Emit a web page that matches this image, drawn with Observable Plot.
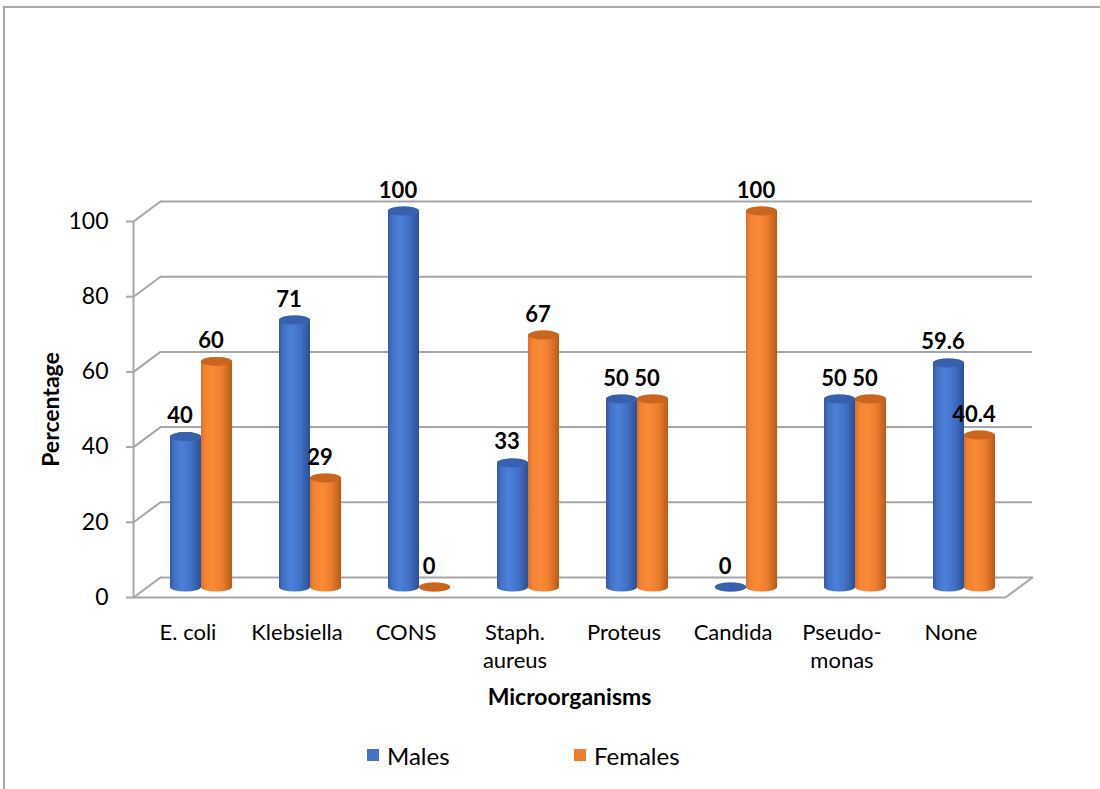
<!DOCTYPE html>
<html>
<head>
<meta charset="utf-8">
<script src="https://cdn.jsdelivr.net/npm/d3@7"></script>
<script src="https://cdn.jsdelivr.net/npm/@observablehq/plot@0.6"></script>
<style>
  body { margin: 0; background: #fff; font-family: Lato, sans-serif; }
  #frame { position: absolute; left: 3px; top: 6px; width: 1200px; height: 900px; border: 2px solid #a9a9a9; box-sizing: border-box; }
  #chart { position: absolute; left: 0; top: 0; }
  .legend-item { position: absolute; top: 742px; height: 26px; display: flex; align-items: center; font-size: 24px; color: #000; }
  .legend-swatch { width: 12px; height: 12px; margin-right: 8px; }
</style>
</head>
<body>
<div id="frame"></div>
<div id="chart"></div>
<div id="legend"></div>
<script>
// Infection rates by organism, split by sex (%)
const categories = ["E. coli", "Klebsiella", "CONS", "Staph.\naureus", "Proteus", "Candida", "Pseudo-\nmonas", "None"];
const males = [40, 71, 100, 33, 50, 0, 50, 59.6];
const females = [60, 29, 0, 67, 50, 100, 50, 40.4];
const yTicks = [0, 20, 40, 60, 80, 100];
const series = ["Males", "Females"];
const seriesColors = ["#4472c4", "#ed7d31"];

// long table built from the arrays above
const rows = categories.flatMap((category, i) => [
  {category, index: i, sex: series[0], value: males[i]},
  {category, index: i, sex: series[1], value: females[i]}
]);

// pseudo-3D geometry (pixels)
const W = 1100, H = 720;
const mL = 133, mR = 95, mT = 221, mB = 123;
const unitPx = (W - mL - mR) / categories.length;  // width of one category slot
const barPx = 31;                                   // cylinder diameter
const barU = barPx / unitPx;                        // same, in x units
const wallDx = 27, wallDy = -20;                    // back wall offset
const barDx = 13.5, barDy = -10;                    // cylinders sit mid-depth
const capRy = 4.5;                                  // ellipse half-height of cylinder ends
const grid = "#a6a6a6";

const x1Of = d => d.index + 0.5 + (d.sex === series[0] ? -barU : 0);
const x2Of = d => d.index + 0.5 + (d.sex === series[0] ? 0 : barU);
const xMid = d => d.index + 0.5 + (d.sex === series[0] ? -barU / 2 : barU / 2);

const depthLen = Math.hypot(wallDx, wallDy);
const depthAngle = Math.atan2(wallDx, -wallDy) * 180 / Math.PI;

// horizontal shading for the cylinders
function cylinderDefs() {
  const ns = "http://www.w3.org/2000/svg";
  const defs = document.createElementNS(ns, "defs");
  const gradients = {
    cylMales: [[0, "#34599f"], [0.12, "#426fc2"], [0.38, "#4c80d9"], [0.7, "#4070c4"], [1, "#2c4f93"]],
    cylFemales: [[0, "#d8702a"], [0.12, "#f08232"], [0.38, "#fa8c37"], [0.7, "#ea7c2e"], [1, "#b85a1b"]]
  };
  for (const [id, stops] of Object.entries(gradients)) {
    const g = document.createElementNS(ns, "linearGradient");
    g.setAttribute("id", id);
    g.setAttribute("x1", "0"); g.setAttribute("x2", "1");
    g.setAttribute("y1", "0"); g.setAttribute("y2", "0");
    for (const [o, c] of stops) {
      const s = document.createElementNS(ns, "stop");
      s.setAttribute("offset", o);
      s.setAttribute("stop-color", c);
      g.appendChild(s);
    }
    defs.appendChild(g);
  }
  return defs;
}

const maleRows = rows.filter(d => d.sex === series[0]);
const femaleRows = rows.filter(d => d.sex === series[1]);

const cylinder = (data, fill, cap) => [
  Plot.rect(data, {
    x1: x1Of, x2: x2Of, y1: 0, y2: "value",
    insetTop: -capRy, insetBottom: -capRy,
    rx: barPx / 2, ry: capRy,
    fill, dx: barDx, dy: barDy
  }),
  Plot.rect(data, {
    x1: x1Of, x2: x2Of, y1: "value", y2: "value",
    insetTop: -capRy, insetBottom: -capRy,
    rx: barPx / 2, ry: capRy,
    fill: cap, dx: barDx, dy: barDy
  })
];

const chart = Plot.plot({
  width: W,
  height: H,
  marginLeft: mL,
  marginRight: mR,
  marginTop: mT,
  marginBottom: mB,
  x: {type: "linear", domain: [0, categories.length]},
  y: {domain: [0, 100]},
  style: {fontFamily: "Lato, sans-serif", fontSize: "22px", color: "#000", background: "transparent", overflow: "visible"},
  marks: [
    cylinderDefs,
    // back wall gridlines
    Plot.ruleY(yTicks, {stroke: grid, strokeWidth: 2, dx: wallDx, dy: wallDy}),
    // side wall receding lines, plus the right floor edge
    Plot.vector(yTicks, {x: 0, y: d => d, length: depthLen, rotate: depthAngle, anchor: "start", r: 0, stroke: grid, strokeWidth: 2}),
    Plot.vector([0], {x: categories.length, y: d => d, length: depthLen, rotate: depthAngle, anchor: "start", r: 0, stroke: grid, strokeWidth: 2}),
    // front edges
    Plot.ruleY([0], {stroke: grid, strokeWidth: 2}),
    Plot.ruleX([0], {y1: 0, y2: 100, stroke: grid, strokeWidth: 2}),
    Plot.axisY({ticks: yTicks, tickSize: 7, tickPadding: 18, stroke: grid, strokeWidth: 2, label: null, fontSize: 23}),
    Plot.axisX({
      ticks: categories.map((_, i) => i + 0.5),
      tickFormat: d => categories[Math.floor(d)],
      tickSize: 0, tickPadding: 22, label: null, fontSize: 22, lineHeight: 1.3
    }),
    ...cylinder(maleRows, "url(#cylMales)", "#3760ad"),
    ...cylinder(femaleRows, "url(#cylFemales)", "#c9651f"),
    // value labels
    Plot.text(rows, {
      x: xMid, y: "value", text: d => String(d.value),
      dx: barDx - 6, dy: -31, fontWeight: "bold", fontSize: 22, fill: "#000"
    }),
    Plot.text(["Percentage"], {frameAnchor: "left", textAnchor: "middle", lineAnchor: "middle", rotate: -90, dx: -82, fontWeight: "bold", fontSize: 23, fill: "#000"}),
    Plot.text(["Microorganisms"], {frameAnchor: "bottom", lineAnchor: "middle", dy: 100, fontWeight: "bold", fontSize: 23, fill: "#000"})
  ]
});
document.getElementById("chart").appendChild(chart);

// legend
const legend = document.getElementById("legend");
const legendLeft = [367, 574];
series.forEach((name, k) => {
  const item = document.createElement("div");
  item.className = "legend-item";
  item.style.left = legendLeft[k] + "px";
  const sw = document.createElement("span");
  sw.className = "legend-swatch";
  sw.style.background = seriesColors[k];
  item.appendChild(sw);
  item.appendChild(document.createTextNode(name));
  legend.appendChild(item);
});
</script>
</body>
</html>
